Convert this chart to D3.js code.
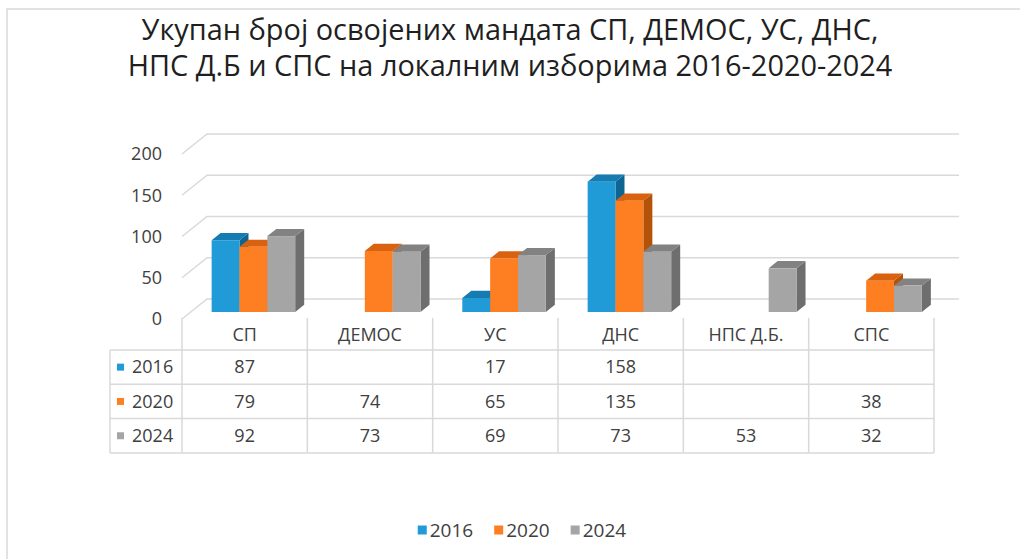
<!DOCTYPE html>
<html lang="sr">
<head>
<meta charset="UTF-8">
<title>Мандати</title>
<script src="https://d3js.org/d3.v7.min.js"></script>
<style>
  body { margin: 0; background: #fff; }
  text { font-family: "Open Sans", "Noto Sans", sans-serif; fill: #404040; }
  .grid { fill: none; stroke: #d9d9d9; stroke-width: 1.5; }
  .tbl { stroke: #d9d9d9; stroke-width: 1.5; }
</style>
</head>
<body>
<script>
// data
var categories = ["СП", "ДЕМОС", "УС", "ДНС", "НПС Д.Б.", "СПС"];
var years = ["2016", "2020", "2024"];
var values2016 = [87, null, 17, 158, null, null];
var values2020 = [79, 74, 65, 135, null, 38];
var values2024 = [92, 73, 69, 73, 53, 32];
var yTicks = [0, 50, 100, 150, 200];
var titleLines = ["Укупан број освојених мандата СП, ДЕМОС, УС, ДНС,",
                  "НПС Д.Б и СПС на локалним изборима 2016-2020-2024"];

var series = [
  {year: years[0], values: values2016, front: "#219bd8", top: "#167bb0", side: "#0f6592"},
  {year: years[1], values: values2020, front: "#fd7f22", top: "#d8620f", side: "#b45209"},
  {year: years[2], values: values2024, front: "#a5a5a5", top: "#828282", side: "#6e6e6e"}
];

var W = 1020, H = 559;
var svg = d3.select("body").append("svg").attr("width", W).attr("height", H);

// frame
svg.append("rect").attr("x", 7).attr("y", 9).attr("width", 1100).attr("height", 700)
  .attr("fill", "none").attr("stroke", "#d9d9d9").attr("stroke-width", 1.5);

// title
var title = svg.append("g");
var tl = title.selectAll("text").data(titleLines).enter().append("text")
  .attr("x", 510).attr("y", function(d, i) { return 40 + i * 36; })
  .attr("text-anchor", "middle")
  .style("fill", "#1f1f1f")
  .style("font-size", "24px")
  .text(function(d) { return d; });
var w2 = tl.nodes()[1].getComputedTextLength();
tl.style("font-size", (24 * 765 / w2) + "px");

// 3d geometry
var depthX = 25, depthY = -20;
var barFront = 0.35, barDepth = 0.36;

var x = d3.scaleBand().domain(categories).range([182, 934]);
var y = d3.scaleLinear().domain([0, 200]).range([319, 154]);
var xs = d3.scaleBand().domain(years).range([0, x.bandwidth()])
  .paddingInner(0).paddingOuter(0.75);

// gridlines: side wall diagonal + back wall
svg.append("g").selectAll("path").data(yTicks).enter().append("path")
  .attr("class", "grid")
  .attr("d", function(v) {
    return "M" + x.range()[0] + "," + y(v) +
      "L" + (x.range()[0] + depthX) + "," + (y(v) + depthY) +
      "H" + (x.range()[1] + depthX);
  });

// y axis labels
var yAxis = d3.axisLeft(y).tickValues(yTicks).tickSize(0).tickPadding(0);
var ya = svg.append("g").attr("transform", "translate(162,0)").call(yAxis);
ya.select(".domain").remove();
ya.selectAll("text").style("font-size", "18px").style("fill", "#404040")
  .attr("font-family", null);

// bars
var bars = [];
categories.forEach(function(c, ci) {
  series.forEach(function(s) {
    if (s.values[ci] != null) bars.push({cat: c, v: s.values[ci], s: s});
  });
});

var bw = xs.bandwidth();
var ddx = barDepth * depthX, ddy = barDepth * depthY;
var bg = svg.append("g").selectAll("g").data(bars).enter().append("g");

function geo(d) {
  var x0 = x(d.cat) + barFront * depthX + xs(d.s.year);
  var yb = y(0) + barFront * depthY;
  var yt = y(d.v) + barFront * depthY;
  return {x0: x0, x1: x0 + bw, yt: yt, yb: yb};
}
function pts(a) { return a.map(function(p) { return p.join(","); }).join(" "); }

bg.append("polygon").attr("fill", function(d) { return d.s.side; })
  .attr("points", function(d) {
    var g = geo(d);
    return pts([[g.x1, g.yt], [g.x1 + ddx, g.yt + ddy], [g.x1 + ddx, g.yb + ddy], [g.x1, g.yb]]);
  });
bg.append("polygon").attr("fill", function(d) { return d.s.top; })
  .attr("points", function(d) {
    var g = geo(d);
    return pts([[g.x0, g.yt], [g.x1, g.yt], [g.x1 + ddx, g.yt + ddy], [g.x0 + ddx, g.yt + ddy]]);
  });
bg.append("rect").attr("fill", function(d) { return d.s.front; })
  .attr("x", function(d) { return geo(d).x0; })
  .attr("y", function(d) { return geo(d).yt; })
  .attr("width", bw)
  .attr("height", function(d) { var g = geo(d); return g.yb - g.yt; });

// data table
var tTop = 318, hdrBottom = 350, rowH = 34.3, tLeft = 110;
var tb = svg.append("g");
var bounds = categories.map(function(c) { return x(c); }).concat([x.range()[1]]);
tb.selectAll(".v").data(bounds).enter().append("line").attr("class", "tbl")
  .attr("x1", function(d) { return d; }).attr("x2", function(d) { return d; })
  .attr("y1", tTop).attr("y2", hdrBottom + rowH * 3);
tb.append("line").attr("class", "tbl")
  .attr("x1", tLeft).attr("x2", tLeft).attr("y1", hdrBottom).attr("y2", hdrBottom + rowH * 3);
tb.selectAll(".h").data([0, 1, 2, 3]).enter().append("line").attr("class", "tbl")
  .attr("x1", tLeft).attr("x2", x.range()[1])
  .attr("y1", function(i) { return hdrBottom + i * rowH; })
  .attr("y2", function(i) { return hdrBottom + i * rowH; });

tb.selectAll(".hdr").data(categories).enter().append("text")
  .attr("x", function(c) { return x(c) + x.bandwidth() / 2; })
  .attr("y", 335).attr("dy", "0.35em").attr("text-anchor", "middle")
  .style("font-size", "18px").text(function(c) { return c; });

series.forEach(function(s, si) {
  var cy = hdrBottom + rowH * (si + 0.5);
  tb.append("rect").attr("x", 117).attr("y", cy - 3.5).attr("width", 7).attr("height", 7)
    .attr("fill", s.front);
  tb.append("text").attr("x", 132).attr("y", cy).attr("dy", "0.35em")
    .style("font-size", "18px").text(s.year);
  tb.selectAll(".val" + si).data(s.values).enter().append("text")
    .attr("x", function(v, i) { return x(categories[i]) + x.bandwidth() / 2; })
    .attr("y", cy).attr("dy", "0.35em").attr("text-anchor", "middle")
    .style("font-size", "18px").text(function(v) { return v == null ? "" : v; });
});

// legend
var lg = svg.append("g");
var items = lg.selectAll("g").data(series).enter().append("g");
items.append("rect").attr("width", 9).attr("height", 9).attr("y", -4.5)
  .attr("fill", function(d) { return d.front; });
items.append("text").attr("x", 12).attr("dy", "0.35em").style("font-size", "19px")
  .text(function(d) { return d.year; });
var lx = 0;
items.each(function() {
  d3.select(this).attr("transform", "translate(" + lx + ",0)");
  lx += this.getBBox().width + 21;
});
lx -= 21;
lg.attr("transform", "translate(" + (522 - lx / 2) + ",530)");
</script>
</body>
</html>
